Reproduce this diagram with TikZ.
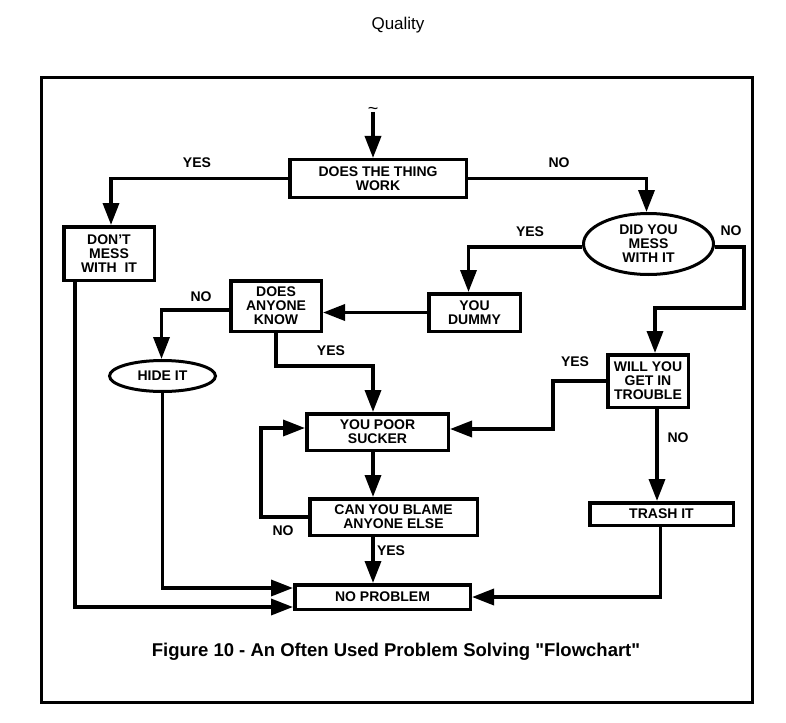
\documentclass[tikz,border=0pt]{standalone}
\usepackage{fontspec}
\setmainfont{Liberation Sans}
\newfontfamily\capfont{Liberation Sans}[Ligatures=TeXOff]
\usetikzlibrary{arrows.meta,shapes.geometric,calc}
\begin{document}
\begin{tikzpicture}[x=1pt,y=-1pt,
  lw/.style={line width=3.5pt},
  boxfont/.style={font=\bfseries\fontsize{14}{14}\selectfont},
  boxnode/.style={draw,lw,rectangle,inner sep=0pt,align=center,boxfont},
  ovalnode/.style={draw,line width=3pt,ellipse,inner sep=0pt,align=center,boxfont},
  conn/.style={lw,-{Triangle[length=22pt,width=16pt]}},
  lbl/.style={boxfont,inner sep=0pt}
]
\useasboundingbox (0,0) rectangle (786,722);
\draw[line width=3pt] (41.5,78) rectangle (752.5,702);

\node[font=\fontsize{17}{17}\selectfont,anchor=base,inner sep=0pt] (title) at (398,30) {Quality};
\node[font=\capfont\bfseries\fontsize{18.5}{18.5}\selectfont,anchor=base,inner sep=0pt] (caption) at (396,656) {Figure 10 - An Often Used Problem Solving "Flowchart"};

% boxes
\node[boxnode,minimum width=176.5pt,minimum height=37.5pt] (thing) at (378,178.5) {DOES THE THING\\WORK};
\node[boxnode,minimum width=90.5pt,minimum height=53.5pt] (dont) at (109,253.5) {DON'T\\MESS\\WITH\ \ IT};
\node[ovalnode,minimum width=130pt,minimum height=61pt] (did) at (648.5,244) {DID YOU\\MESS\\WITH IT};
\node[boxnode,minimum width=91.5pt,minimum height=37.5pt] (dummy) at (474.5,312.5) {YOU\\DUMMY};
\node[boxnode,minimum width=90.5pt,minimum height=50.5pt] (know) at (276,306) {DOES\\ANYONE\\KNOW};
\node[ovalnode,minimum width=106pt,minimum height=31pt] (hide) at (162.5,376) {HIDE IT};
\node[boxnode,minimum width=80.5pt,minimum height=52.5pt] (trouble) at (648,381) {WILL YOU\\GET IN\\TROUBLE};
\node[boxnode,minimum width=141.5pt,minimum height=36.5pt] (sucker) at (377.5,432) {YOU POOR\\SUCKER};
\node[boxnode,minimum width=167.5pt,minimum height=36.5pt] (blame) at (393.5,517) {CAN YOU BLAME\\ANYONE ELSE};
\node[boxnode,minimum width=143.5pt,minimum height=22.5pt] (trash) at (661.5,514) {TRASH IT};
\node[boxnode,minimum width=175.5pt,minimum height=24.5pt] (noprob) at (382.5,597) {NO PROBLEM};

% entry
\node[font=\fontsize{18}{18}\selectfont,inner sep=0pt,anchor=base] (tilde) at (373,115) {\textasciitilde};
\coordinate (start) at (373,112);
\draw[conn] (start) -- (start |- thing.north);

% connectors
\draw[conn] (thing.west) -| ($(dont.north)+(2,0)$);
\draw[conn] (thing.east) -| ($(did.north)+(-2,0)$);
\draw[conn] ($(did.west)+(0,3)$) -| ($(dummy.north)+(-6,0)$);
\coordinate (k0) at (744,308);
\coordinate (k1) at (655,308);
\draw[conn] ($(did.east)+(0,3)$) -| (k0) -- (k1) -- (k1 |- trouble.north);
\draw[conn] (dummy.west) -- (dummy.west -| know.east);
\draw[conn] ($(know.west)+(0,4)$) -| ($(hide.north)+(-1,0)$);
\coordinate (k2) at (373,366);
\draw[conn] (know.south) |- (k2) -- (k2 |- sucker.north);
\draw[conn] (k2 |- sucker.south) -- (k2 |- blame.north);
\coordinate (k3) at (261,428);
\draw[conn] (blame.west) -| (k3) -- (k3 -| sucker.west);
\draw[conn] (k2 |- blame.south) -- (k2 |- noprob.north);
\coordinate (k4) at (553,429);
\draw[conn] (trouble.west) -| (k4) -- (k4 -| sucker.east);
\draw[conn] ($(k1 |- trouble.south)+(2,0)$) -- ($(k1 |- trash.north)+(2,0)$);
\coordinate (k5) at (75,607);
\draw[conn] (k5 |- dont.south) -- (k5) -- (k5 -| noprob.west);
\draw[conn] (hide.south) |- ($(noprob.west)+(0,-9)$);
\draw[conn] ($(trash.south)+(-1,0)$) |- (noprob.east);

% labels
\node[lbl] (l1) at (197,163) {YES};
\node[lbl] (l2) at (559,163) {NO};
\node[lbl] (l3) at (530,232) {YES};
\node[lbl] (l4) at (731,231) {NO};
\node[lbl] (l5) at (201,297) {NO};
\node[lbl] (l6) at (331,351) {YES};
\node[lbl] (l7) at (575,362) {YES};
\node[lbl] (l8) at (678,438) {NO};
\node[lbl] (l9) at (283,531) {NO};
\node[lbl] (l10) at (391,551) {YES};
\end{tikzpicture}
\end{document}
